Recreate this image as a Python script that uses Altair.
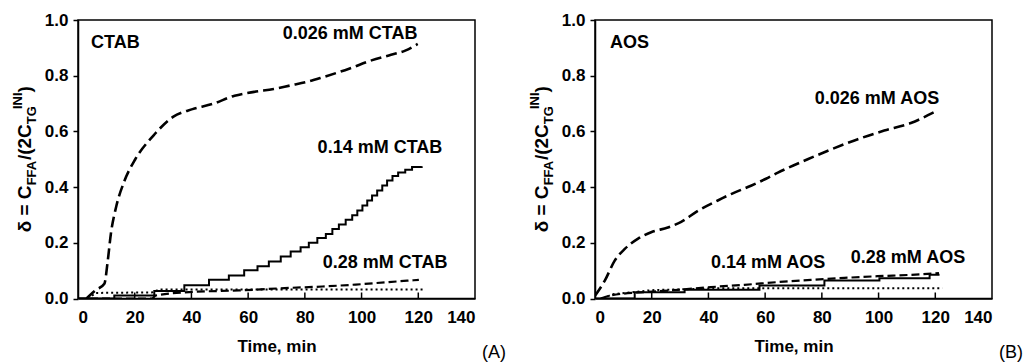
import altair as alt
import pandas as pd

# ---------------- data ----------------
x_ticks = [0, 20, 40, 60, 80, 100, 120, 140]
y_ticks = [0.0, 0.2, 0.4, 0.6, 0.8, 1.0]
inner_ticks = [20, 40, 60, 80, 100, 120]

# Panel A: CTAB
ctab026_t = [3, 6.3, 9.3, 10.5, 11.6, 13.4, 16.3, 20.2, 26.6, 33.5, 40.4, 47.3, 55.2, 62.1, 69, 74.9, 80.9, 86.8, 95.6, 103.5, 110.4, 115.4, 119.8]
ctab026_v = [0.0, 0.03, 0.053, 0.136, 0.233, 0.327, 0.42, 0.5, 0.585, 0.652, 0.68, 0.698, 0.728, 0.742, 0.752, 0.765, 0.778, 0.796, 0.825, 0.855, 0.875, 0.89, 0.914]

ctab014_t = [0, 12.8, 26.9, 37.5, 46.2, 53.2, 58.6, 63.3, 67.3, 71.5, 75, 78.5, 81.4, 84.4, 87.4, 89.7, 92, 94.4, 96.7, 98.5, 100.3, 102, 103.7, 105.5, 107.3, 109, 110.9, 112.9, 115.4, 117.8, 121.2]
ctab014_v = [0, 0.011, 0.027, 0.048, 0.067, 0.083, 0.101, 0.116, 0.133, 0.151, 0.169, 0.184, 0.2, 0.217, 0.232, 0.25, 0.266, 0.283, 0.299, 0.316, 0.334, 0.352, 0.37, 0.388, 0.406, 0.424, 0.44, 0.452, 0.462, 0.472, 0.475]

ctab028_t = [0, 26, 27.5, 39.2, 56.8, 74.4, 86.2, 97.9, 109.6, 120.2]
ctab028_v = [0, 0, 0.011, 0.023, 0.029, 0.038, 0.043, 0.05, 0.059, 0.067]

ctabdot_t = [3.5, 6.3, 26.3, 28.5, 122.5]
ctabdot_v = [0, 0.02, 0.022, 0.032, 0.032]

# Panel B: AOS
aos026_t = [0, 3.5, 6.9, 10.5, 15.2, 19.8, 25.7, 30.4, 36.3, 43.3, 48, 55, 60.3, 64.5, 75, 83.2, 92.7, 102, 111.4, 119.6]
aos026_v = [0.01, 0.065, 0.135, 0.178, 0.215, 0.238, 0.255, 0.275, 0.315, 0.352, 0.375, 0.405, 0.43, 0.452, 0.5, 0.535, 0.572, 0.603, 0.63, 0.669]

aos014_t = [0, 14, 31.6, 58, 80.9, 100.3, 118, 121.5]
aos014_v = [0, 0.022, 0.031, 0.047, 0.065, 0.073, 0.085, 0.085]

aos028_t = [2, 5.6, 17.5, 29.2, 40.9, 52.7, 64.5, 76.2, 87.9, 99.6, 111.4, 121.3]
aos028_v = [0, 0.011, 0.023, 0.031, 0.041, 0.049, 0.059, 0.067, 0.074, 0.08, 0.085, 0.091]

aosdot_t = [3, 6, 20, 45, 122.5]
aosdot_v = [0, 0.015, 0.03, 0.037, 0.037]

ctab_labels = ["CTAB", "0.026 mM CTAB", "0.14 mM CTAB", "0.28 mM CTAB"]
ctab_label_x = [4.6, 72.2, 84.5, 86.3]
ctab_label_y = [0.916, 0.951, 0.542, 0.126]

aos_labels = ["AOS", "0.026 mM AOS", "0.14 mM AOS", "0.28 mM AOS"]
aos_label_x = [5.3, 77.5, 40.9, 90.2]
aos_label_y = [0.916, 0.718, 0.129, 0.147]

# ---------------- layout ----------------
W = 397
H = 278.5
FONT = "Liberation Sans"

x_scale = alt.Scale(domain=[0, 140], nice=False)
y_scale = alt.Scale(domain=[0, 1], nice=False)

x_axis = alt.Axis(values=x_ticks, format="d", ticks=False, tickSize=0, labelPadding=11,
                  title="Time, min", titlePadding=13, grid=False)
y_axis = alt.Axis(values=y_ticks, format=".1f", tickSize=5, labelPadding=5, grid=False)


def enc_x():
    return alt.X("t:Q", scale=x_scale, axis=x_axis)


def enc_y():
    return alt.Y("v:Q", scale=y_scale, axis=y_axis, title=None)


def line(t, v, width, dash=None, interp="linear"):
    kw = dict(color="black", strokeWidth=width, interpolate=interp, clip=True)
    if dash:
        kw["strokeDash"] = dash
    return alt.Chart(pd.DataFrame({"t": t, "v": v})).mark_line(**kw).encode(x=enc_x(), y=enc_y())


def labels(txt, lx, ly):
    df = pd.DataFrame({"s": txt, "t": lx, "v": ly})
    return alt.Chart(df).mark_text(font=FONT, fontWeight="bold", fontSize=18, align="left",
                                   baseline="middle", color="black").encode(
        x=enc_x(), y=enc_y(), text="s:N")


def inner_tick_layer():
    return alt.Chart(pd.DataFrame({"t": inner_ticks})).mark_rule(color="black", strokeWidth=1.5).encode(
        x=enc_x(), y=alt.value(H), y2=alt.value(H - 6))


# composite y-axis title: δ = C_FFA/(2C_TG^INI)
CW = {'δ': 0.611, ' ': 0.278, '=': 0.584, 'C': 0.722, 'F': 0.611, 'A': 0.722, '/': 0.278,
      '(': 0.333, ')': 0.333, '2': 0.556, 'T': 0.611, 'G': 0.778, 'I': 0.278, 'N': 0.722}
FM, FS = 19, 13
XB_MAIN, XB_SUB, XB_SUP = -47, -42, -56


def tw(s, f):
    return sum(CW[c] for c in s) * f


def ytitle_layers():
    pieces = [("δ = C", FM, XB_MAIN, True), ("FFA", FS, XB_SUB, True), ("/(2C", FM, XB_MAIN, True),
              ("TG", FS, XB_SUB, False), ("INI", FS, XB_SUP, True), (")", FM, XB_MAIN, True)]
    total = 0
    for s, f, xb, adv in pieces:
        total += tw(s, f) if adv else tw(s, f) - 3
    pos = H / 2 + total / 2
    layers = []
    for s, f, xb, adv in pieces:
        layers.append(
            alt.Chart(pd.DataFrame({"s": [s]})).mark_text(
                font=FONT, fontWeight="bold", fontSize=f, angle=270, align="left",
                baseline="alphabetic", color="black").encode(
                text="s:N", x=alt.value(xb), y=alt.value(pos)))
        pos -= tw(s, f) if adv else tw(s, f) - 3
    return layers


def tag(letter):
    return alt.Chart(pd.DataFrame({"s": [letter]})).mark_text(
        font=FONT, fontSize=18, align="left", baseline="alphabetic", color="black").encode(
        text="s:N", x=alt.value(W + 7), y=alt.value(H + 59))


def panel(series, lab, letter):
    t026, v026, t014, v014, t028, v028, tdot, vdot = series
    layers = [
        line(tdot, vdot, 2, dash=[2, 3]),
        line(t028, v028, 2.2, dash=[8, 4], interp="monotone"),
        line(t014, v014, 2, interp="step-after"),
        line(t026, v026, 2.6, dash=[11, 5], interp="monotone"),
        inner_tick_layer(),
        labels(*lab),
        tag(letter),
    ] + ytitle_layers()
    return alt.layer(*layers).properties(width=W, height=H)


left = panel((ctab026_t, ctab026_v, ctab014_t, ctab014_v, ctab028_t, ctab028_v, ctabdot_t, ctabdot_v),
             (ctab_labels, ctab_label_x, ctab_label_y), "(A)")
right = panel((aos026_t, aos026_v, aos014_t, aos014_v, aos028_t, aos028_v, aosdot_t, aosdot_v),
              (aos_labels, aos_label_x, aos_label_y), "(B)")

chart = alt.hconcat(left, right, spacing=21).properties(
    padding={"left": 11, "top": 10, "right": 0, "bottom": 0}
).configure(font=FONT).configure_view(stroke="black", strokeWidth=1.5).configure_axis(
    labelFont=FONT, labelFontSize=17, labelFontWeight="bold", labelColor="black",
    titleFont=FONT, titleFontSize=17, titleFontWeight="bold", titleColor="black",
    domainColor="black", domainWidth=1.5, tickColor="black", tickWidth=1.5,
)

chart.save("out.html", embed_options={"renderer": "svg", "actions": False})
